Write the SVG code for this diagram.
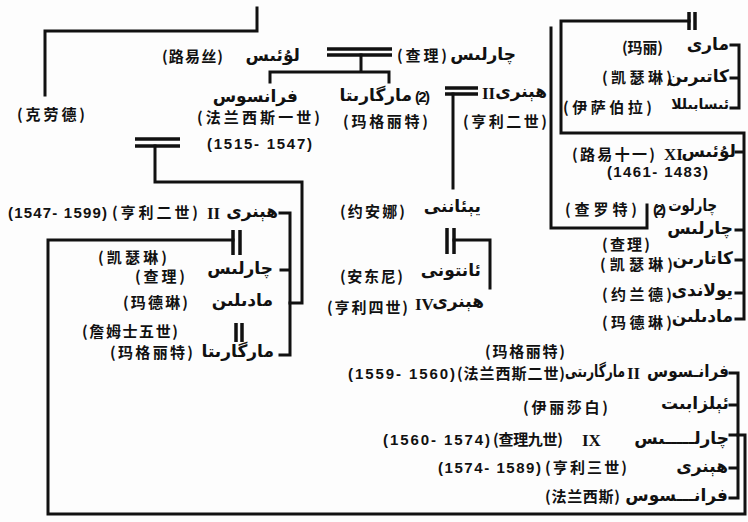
<svg xmlns="http://www.w3.org/2000/svg" width="748" height="522" viewBox="0 0 748 522">
<style>
.c{font-family:"Noto Sans CJK SC","Noto Sans CJK TC",sans-serif;font-size:15px;font-weight:bold;fill:#111}
.n{font-family:"Liberation Sans",Arial,sans-serif;font-size:15px;font-weight:bold;fill:#111}
.u{font-family:"DejaVu Sans",sans-serif;font-size:17px;font-weight:bold;fill:#111;text-anchor:end}
.s{font-size:14px}
.r{font-family:"Liberation Serif",serif;font-size:17px;font-weight:bold;fill:#111}
.ln{fill:none;stroke:#111;stroke-width:3;stroke-linejoin:miter;stroke-linecap:square}
.mb{fill:none;stroke:#111;stroke-width:3.5}
</style>
<rect width="748" height="522" fill="#fdfdfd"/>
<g id="connectors">
<path class="ln" d="M257,8 V31 H45 V95"/>
<path class="mb" d="M327,49 H392 M327,55 H392"/>
<path class="ln" d="M361,55 V72 M270,82 V72 H389 V82"/>
<path class="mb" d="M445,88 H478 M445,94 H478"/>
<path class="ln" d="M453,94 V188"/>
<path class="mb" d="M135,139 H180 M135,146 H180"/>
<path class="ln" d="M155,146 V182 H302 V303 H290"/>
<path class="ln" d="M280,213 H290 V355 H280 M281,270 H290"/>
<path class="mb" d="M233,230 V255 M240,230 V255"/>
<path class="ln" d="M233,240 H48 V514 H745 V435 H738"/>
<path class="mb" d="M236,323 V342 M242,323 V342"/>
<path class="mb" d="M447,228 V254 M454,228 V254"/>
<path class="ln" d="M454,240 H490 V288"/>
<path class="mb" d="M689,12 V30 M695,12 V30"/>
<path class="ln" d="M689,21 H561 V133 H744 V319 H736 M736,152 H744 M736,230 H744 M736,260 H744 M736,293 H744"/>
<path class="ln" d="M731,45 H739 V108 H731 M731,78 H739"/>
<path class="ln" d="M551,28 V228 H647 V205"/>
<path class="ln" d="M730,373 H738 V498 H730 M730,405 H738 M730,435 H738 M730,468 H738"/>
</g>
<g id="louise">
<text class="c" x="162" y="62" textLength="61" lengthAdjust="spacing">(路易丝)</text>
<text class="u" x="300" y="61">لۇئىس</text>
</g>
<g id="charles-top">
<text class="c" x="397" y="61" textLength="50" lengthAdjust="spacing">(查理)</text>
<text class="u" x="516" y="60">چارلىس</text>
</g>
<g id="claude">
<text class="c" x="17" y="120" textLength="68" lengthAdjust="spacing">(克劳德)</text>
</g>
<g id="francis-i">
<text class="u" x="298" y="102">فرانسوس</text>
<text class="c" x="197" y="123" textLength="123" lengthAdjust="spacing">(法兰西斯一世)</text>
<text class="n" x="207" y="149" textLength="105" lengthAdjust="spacing">(1515- 1547)</text>
</g>
<g id="margaret-top">
<text class="u" x="412" y="101">مارگارىتا</text>
<text class="n" x="415" y="102" textLength="15" lengthAdjust="spacing">(2)</text>
<text class="c" x="343" y="127" textLength="85" lengthAdjust="spacing">(玛格丽特)</text>
</g>
<g id="henry-ii-navarre">
<text class="r" x="482" y="99">II</text>
<text class="u" x="547" y="97">هېنرى</text>
<text class="c" x="463" y="127" textLength="84" lengthAdjust="spacing">(亨利二世)</text>
</g>
<g id="mary">
<text class="c" x="622" y="53" textLength="41" lengthAdjust="spacing">(玛丽)</text>
<text class="u" x="729" y="50">مارى</text>
</g>
<g id="catherine-top">
<text class="c" x="602" y="83" textLength="70" lengthAdjust="spacing">(凯瑟琳)</text>
<text class="u" x="729" y="82">كاتىرىن</text>
</g>
<g id="isabella">
<text class="c" x="563" y="113" textLength="89" lengthAdjust="spacing">(伊萨伯拉)</text>
<text class="u s" x="729" y="109">ئىسابىللا</text>
</g>
<g id="louis-xi">
<text class="c" x="572" y="160" textLength="83" lengthAdjust="spacing">(路易十一)</text>
<text class="r" x="664" y="160">XI</text>
<text class="u" x="736" y="157">لۇئىس</text>
<text class="n" x="607" y="177" textLength="101" lengthAdjust="spacing">(1461- 1483)</text>
</g>
<g id="charlotte">
<text class="c" x="565" y="215" textLength="72" lengthAdjust="spacing">(查罗特)</text>
<text class="n" x="653" y="215" textLength="13" lengthAdjust="spacing">(2)</text>
<text class="u" transform="translate(717,211) scale(0.78,1)">چارلوت</text>
</g>
<g id="charles-right">
<text class="c" x="602" y="250" textLength="48" lengthAdjust="spacing">(查理)</text>
<text class="u" x="733" y="234">چارلىس</text>
</g>
<g id="catherine-right">
<text class="c" x="600" y="270" textLength="73" lengthAdjust="spacing">(凯瑟琳)</text>
<text class="u" x="733" y="264">كاتارىن</text>
</g>
<g id="yolande">
<text class="c" x="602" y="300" textLength="70" lengthAdjust="spacing">(约兰德)</text>
<text class="u" x="733" y="296">يولاندى</text>
</g>
<g id="madeleine-right">
<text class="c" x="602" y="328" textLength="70" lengthAdjust="spacing">(玛德琳)</text>
<text class="u" x="733" y="322">مادىلىن</text>
</g>
<g id="jeanne">
<text class="c" x="340" y="217" textLength="65" lengthAdjust="spacing">(约安娜)</text>
<text class="u" x="481" y="212">يېئاننى</text>
</g>
<g id="antoine">
<text class="c" x="340" y="282" textLength="63" lengthAdjust="spacing">(安东尼)</text>
<text class="u" x="481" y="276">ئانتونى</text>
</g>
<g id="henry-iv">
<text class="c" x="327" y="313" textLength="81" lengthAdjust="spacing">(亨利四世)</text>
<text class="r" x="415" y="310">IV</text>
<text class="u" x="484" y="307">هېنرى</text>
</g>
<g id="henry-ii">
<text class="n" x="8" y="218" textLength="99" lengthAdjust="spacing">(1547- 1599)</text>
<text class="c" x="112" y="218" textLength="86" lengthAdjust="spacing">(亨利二世)</text>
<text class="r" x="207" y="219">II</text>
<text class="u" x="278" y="217">هېنرى</text>
</g>
<g id="catherine-left">
<text class="c" x="98" y="263" textLength="69" lengthAdjust="spacing">(凯瑟琳)</text>
</g>
<g id="charles-left">
<text class="c" x="135" y="282" textLength="50" lengthAdjust="spacing">(查理)</text>
<text class="u" x="273" y="274">چارلىس</text>
</g>
<g id="madeleine-left">
<text class="c" x="123" y="308" textLength="65" lengthAdjust="spacing">(玛德琳)</text>
<text class="u" x="273" y="306">مادىلىن</text>
</g>
<g id="james-v">
<text class="c" x="82" y="337" textLength="96" lengthAdjust="spacing">(詹姆士五世)</text>
</g>
<g id="margaret-left">
<text class="c" x="110" y="358" textLength="83" lengthAdjust="spacing">(玛格丽特)</text>
<text class="u" x="274" y="357">مارگارىتا</text>
</g>
<g id="francis-ii">
<text class="c" x="485" y="357" textLength="80" lengthAdjust="spacing">(玛格丽特)</text>
<text class="n" x="348" y="379" textLength="107" lengthAdjust="spacing">(1559- 1560)</text>
<text class="c" x="457" y="379" textLength="108" lengthAdjust="spacing">(法兰西斯二世)</text>
<text class="u" transform="translate(625,377) scale(0.72,1)">مارگارىتى</text>
<text class="r" x="627" y="379">II</text>
<text class="u" transform="translate(729,377) scale(0.9,1)">فرانـسوس</text>
</g>
<g id="elizabeth">
<text class="c" x="523" y="413" textLength="85" lengthAdjust="spacing">(伊丽莎白)</text>
<text class="u" x="729" y="409">ئېلزابىت</text>
</g>
<g id="charles-ix">
<text class="n" x="383" y="445" textLength="107" lengthAdjust="spacing">(1560- 1574)</text>
<text class="c" x="493" y="445" textLength="70" lengthAdjust="spacing">(查理九世)</text>
<text class="r" x="582" y="446">IX</text>
<text class="u" x="729" y="444">چارلـــــىس</text>
</g>
<g id="henry-iii">
<text class="n" x="438" y="473" textLength="103" lengthAdjust="spacing">(1574- 1589)</text>
<text class="c" x="545" y="473" textLength="82" lengthAdjust="spacing">(亨利三世)</text>
<text class="u" x="728" y="472">هېنرى</text>
</g>
<g id="francis">
<text class="c" x="545" y="502" textLength="75" lengthAdjust="spacing">(法兰西斯)</text>
<text class="u" x="728" y="501">فرانـــسوس</text>
</g>
</svg>
